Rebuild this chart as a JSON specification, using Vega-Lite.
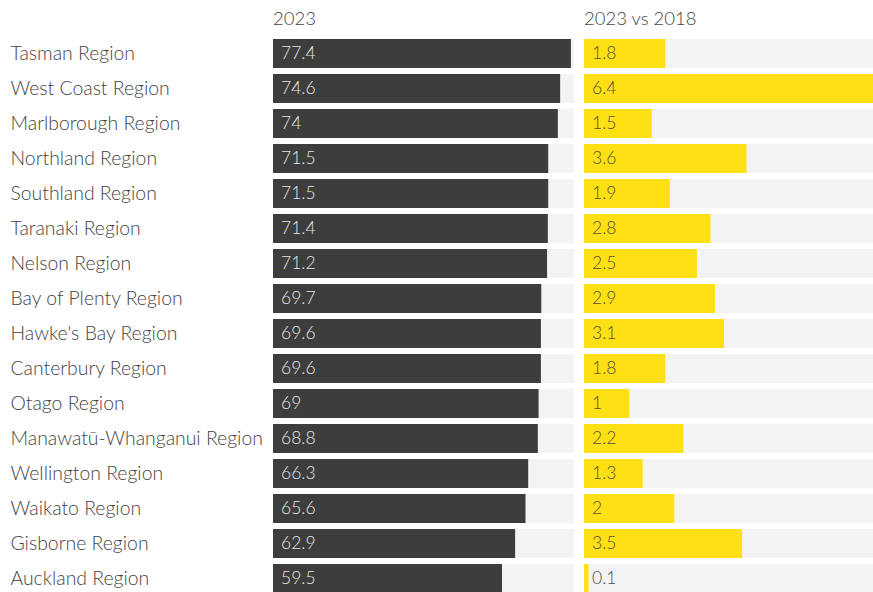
{
  "$schema": "https://vega.github.io/schema/vega-lite/v6.json",
  "padding": {"left": 10, "top": 9, "right": 0, "bottom": 0},
  "background": "white",
  "config": {
    "view": {"stroke": null},
    "font": "Lato",
    "concat": {"spacing": 10},
    "title": {"font": "Lato", "fontSize": 18.5, "fontWeight": 300, "color": "#444", "anchor": "start", "frame": "group", "offset": 8}
  },
  "data": {"values": [
    {"region": "Tasman Region", "v2023": 77.4, "change": 1.8},
    {"region": "West Coast Region", "v2023": 74.6, "change": 6.4},
    {"region": "Marlborough Region", "v2023": 74, "change": 1.5},
    {"region": "Northland Region", "v2023": 71.5, "change": 3.6},
    {"region": "Southland Region", "v2023": 71.5, "change": 1.9},
    {"region": "Taranaki Region", "v2023": 71.4, "change": 2.8},
    {"region": "Nelson Region", "v2023": 71.2, "change": 2.5},
    {"region": "Bay of Plenty Region", "v2023": 69.7, "change": 2.9},
    {"region": "Hawke's Bay Region", "v2023": 69.6, "change": 3.1},
    {"region": "Canterbury Region", "v2023": 69.6, "change": 1.8},
    {"region": "Otago Region", "v2023": 69, "change": 1},
    {"region": "Manawatū-Whanganui Region", "v2023": 68.8, "change": 2.2},
    {"region": "Wellington Region", "v2023": 66.3, "change": 1.3},
    {"region": "Waikato Region", "v2023": 65.6, "change": 2},
    {"region": "Gisborne Region", "v2023": 62.9, "change": 3.5},
    {"region": "Auckland Region", "v2023": 59.5, "change": 0.1}
  ]},
  "hconcat": [
    {
      "width": 301,
      "height": 560,
      "title": "2023",
      "encoding": {
        "y": {"field": "region", "type": "nominal", "sort": null, "scale": {"paddingInner": 0.17, "paddingOuter": 0.085},
          "axis": {"title": null, "domain": false, "ticks": false, "labelAlign": "left", "labelPadding": 263, "labelFont": "Lato", "labelFontSize": 19.4, "labelFontWeight": 300, "labelColor": "#444", "labelLimit": 300}}
      },
      "layer": [
        {"mark": {"type": "bar", "color": "#f3f3f3"}, "encoding": {"x": {"datum": 78.2, "type": "quantitative", "scale": {"domain": [0, 78.2], "nice": false}, "axis": null}}},
        {"mark": {"type": "bar", "color": "#3d3d3d"}, "encoding": {"x": {"field": "v2023", "type": "quantitative", "scale": {"domain": [0, 78.2], "nice": false}, "axis": null}}},
        {"mark": {"type": "text", "align": "left", "dx": 8, "font": "Lato", "fontSize": 17.5, "fontWeight": 300, "color": "#e6e6e6"}, "encoding": {"x": {"datum": 0, "type": "quantitative"}, "text": {"field": "v2023", "type": "quantitative"}}}
      ]
    },
    {
      "width": 289,
      "height": 560,
      "title": "2023 vs 2018",
      "encoding": {
        "y": {"field": "region", "type": "nominal", "sort": null, "scale": {"paddingInner": 0.17, "paddingOuter": 0.085}, "axis": null}
      },
      "layer": [
        {"mark": {"type": "bar", "color": "#f3f3f3"}, "encoding": {"x": {"datum": 6.4, "type": "quantitative", "scale": {"domain": [0, 6.4], "nice": false}, "axis": null}}},
        {"mark": {"type": "bar", "color": "#ffe014"}, "encoding": {"x": {"field": "change", "type": "quantitative", "scale": {"domain": [0, 6.4], "nice": false}, "axis": null}}},
        {"mark": {"type": "text", "align": "left", "dx": 8, "font": "Lato", "fontSize": 17.5, "fontWeight": 300, "color": "#55503a"}, "encoding": {"x": {"datum": 0, "type": "quantitative"}, "text": {"field": "change", "type": "quantitative"}}}
      ]
    }
  ]
}
